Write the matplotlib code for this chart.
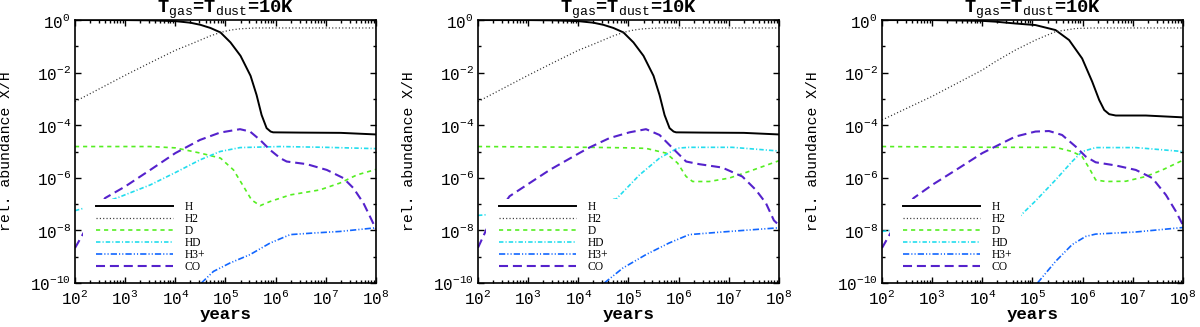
import numpy as np
import matplotlib
matplotlib.use("Agg")
import matplotlib.pyplot as plt
from matplotlib import ticker
from matplotlib.patches import Rectangle

plt.rcParams['font.family'] = ['Liberation Mono', 'DejaVu Sans']
plt.rcParams['mathtext.fontset'] = 'custom'
plt.rcParams['mathtext.rm'] = 'Liberation Mono'
plt.rcParams['mathtext.it'] = 'Liberation Mono'
plt.rcParams['mathtext.bf'] = 'Liberation Mono:bold'
plt.rcParams['mathtext.default'] = 'rm'
plt.rcParams['lines.scale_dashes'] = False

# data: log10(years) and log10(abundance)
# panel 1
lt_H_a = [2.0, 3.0, 3.5, 4.0, 4.3, 4.5, 4.7, 4.9, 5.1, 5.3, 5.5, 5.62, 5.72, 5.82, 5.9, 5.95, 6.5, 7.3, 8.0]
H_a = [0.0, 0.0, -0.01, -0.04, -0.1, -0.18, -0.3, -0.47, -0.85, -1.36, -2.12, -2.85, -3.61, -4.11, -4.24, -4.27, -4.28, -4.29, -4.35]
lt_H2_a = [2.0, 2.5, 3.0, 3.5, 4.0, 4.3, 4.5, 4.7, 4.9, 5.1, 5.3, 5.6, 8.0]
H2_a = [-3.1, -2.6, -2.1, -1.62, -1.15, -0.92, -0.76, -0.6, -0.47, -0.38, -0.33, -0.3, -0.3]
lt_D_a = [2.0, 3.5, 4.0, 4.5, 4.9, 5.16, 5.36, 5.52, 5.69, 5.89, 6.29, 6.88, 7.28, 7.62, 8.0]
D_a = [-4.81, -4.81, -4.86, -5.06, -5.25, -5.7, -6.33, -6.84, -7.06, -6.9, -6.65, -6.46, -6.2, -5.89, -5.68]
lt_HD_a = [2.0, 2.5, 2.86, 3.5, 4.0, 4.49, 4.89, 5.29, 6.09, 7.0, 8.0]
HD_a = [-7.25, -6.98, -6.75, -6.27, -5.8, -5.32, -5.0, -4.85, -4.81, -4.84, -4.89]
lt_H3p_a = [4.52, 4.76, 5.09, 5.49, 5.89, 6.29, 6.75, 7.28, 8.0]
H3p_a = [-10.0, -9.56, -9.24, -8.92, -8.48, -8.16, -8.1, -8.04, -7.9]
lt_CO_a = [2.0, 2.17, 2.6, 3.0, 3.5, 4.0, 4.49, 4.89, 5.29, 5.49, 5.69, 5.89, 6.09, 6.22, 6.62, 7.02, 7.35, 7.55, 7.75, 7.88, 8.0]
CO_a = [-8.67, -8.1, -6.77, -6.33, -5.7, -5.06, -4.56, -4.28, -4.15, -4.24, -4.56, -4.94, -5.25, -5.38, -5.48, -5.7, -6.01, -6.39, -6.96, -7.47, -7.95]

# panel 2 (H and H2 same as panel 1)
lt_D_b = [2.0, 4.23, 5.0, 5.35, 5.75, 5.98, 6.15, 6.28, 6.61, 7.01, 7.4, 8.0]
D_b = [-4.81, -4.84, -4.86, -4.88, -5.06, -5.44, -5.95, -6.14, -6.14, -6.01, -5.76, -5.35]
lt_HD_b = [2.0, 3.5, 4.76, 5.22, 5.62, 5.98, 6.21, 7.07, 8.0]
HD_b = [-7.43, -7.2, -6.8, -5.89, -5.25, -4.87, -4.84, -4.84, -4.98]
lt_H3p_b = [4.52, 4.89, 5.35, 5.81, 6.21, 6.87, 8.0]
H3p_b = [-10.0, -9.43, -8.92, -8.48, -8.16, -8.06, -7.9]
lt_CO_b = [2.0, 2.17, 2.63, 3.03, 3.43, 4.02, 4.23, 4.62, 5.02, 5.35, 5.62, 5.88, 6.15, 6.41, 6.87, 7.27, 7.54, 7.74, 7.9, 8.0]
CO_b = [-8.66, -7.96, -6.7, -6.2, -5.7, -5.06, -4.84, -4.49, -4.27, -4.15, -4.37, -4.87, -5.38, -5.48, -5.61, -5.95, -6.46, -6.96, -7.62, -7.8]

# panel 3
lt_H_c = [2.0, 3.0, 4.0, 4.26, 4.66, 5.06, 5.46, 5.73, 5.99, 6.19, 6.33, 6.43, 6.53, 6.66, 7.26, 8.0]
H_c = [0.0, 0.0, -0.03, -0.06, -0.13, -0.19, -0.38, -0.76, -1.46, -2.34, -3.04, -3.42, -3.58, -3.63, -3.63, -3.7]
lt_H2_c = [2.0, 3.0, 4.0, 4.26, 4.66, 5.06, 5.46, 5.86, 6.2, 8.0]
H2_c = [-3.8, -2.9, -1.9, -1.58, -1.14, -0.76, -0.44, -0.32, -0.3, -0.3]
lt_D_c = [2.0, 4.26, 5.46, 5.79, 5.99, 6.13, 6.26, 6.46, 6.86, 7.26, 7.59, 8.0]
D_c = [-4.81, -4.84, -4.84, -5.0, -5.19, -5.63, -6.08, -6.14, -6.13, -5.95, -5.7, -5.33]
lt_HD_c = [2.0, 3.5, 4.76, 5.06, 5.46, 5.79, 5.99, 6.26, 7.06, 8.0]
HD_c = [-8.04, -7.7, -7.44, -6.88, -6.08, -5.38, -5.0, -4.85, -4.85, -5.0]
lt_H3p_c = [5.1, 5.46, 5.79, 6.06, 6.26, 7.06, 8.0]
H3p_c = [-10.0, -9.18, -8.54, -8.23, -8.14, -8.06, -7.89]
lt_CO_c = [2.0, 2.17, 2.63, 3.0, 3.5, 4.0, 4.26, 4.66, 5.06, 5.33, 5.59, 5.86, 6.06, 6.26, 6.66, 7.06, 7.39, 7.66, 7.86, 8.0]
CO_c = [-8.67, -8.1, -6.77, -6.27, -5.67, -5.06, -4.81, -4.43, -4.24, -4.22, -4.37, -4.81, -5.19, -5.41, -5.53, -5.7, -6.01, -6.65, -7.28, -7.8]

labels = ['H', 'H2', 'D', 'HD', 'H3+', 'CO']
colors = ['black', '#333333', '#55ee22', '#22ddee', '#1166ff', '#5522cc']
widths = [1.4, 0.9, 1.2, 1.2, 1.2, 1.5]
dashes = [None, (0.8, 1.6), (3.0, 2.8), (3.2, 1.5, 0.8, 1.5), (4.5, 1.5, 0.8, 1.5, 0.8, 1.5), (6.5, 3.5)]

panels = [
    [(lt_H_a, H_a), (lt_H2_a, H2_a), (lt_D_a, D_a), (lt_HD_a, HD_a), (lt_H3p_a, H3p_a), (lt_CO_a, CO_a)],
    [(lt_H_a, H_a), (lt_H2_a, H2_a), (lt_D_b, D_b), (lt_HD_b, HD_b), (lt_H3p_b, H3p_b), (lt_CO_b, CO_b)],
    [(lt_H_c, H_c), (lt_H2_c, H2_c), (lt_D_c, D_c), (lt_HD_c, HD_c), (lt_H3p_c, H3p_c), (lt_CO_c, CO_c)],
]
lefts = [0.0625, 0.3983, 0.735]

fig = plt.figure(figsize=(12, 3.27), dpi=100)

for left, series in zip(lefts, panels):
    ax = fig.add_axes([left, 0.1346, 0.2508, 0.804])
    for (lt, lv), lab, c, lw, ds in zip(series, labels, colors, widths, dashes):
        line, = ax.plot(10.0 ** np.array(lt), 10.0 ** np.array(lv), color=c, lw=lw, label=lab)
        if ds is not None:
            line.set_dashes(ds)
    ax.set_xscale('log')
    ax.set_yscale('log')
    ax.set_xlim(1e2, 1e8)
    ax.set_ylim(1e-10, 1e0)
    ax.yaxis.set_major_locator(ticker.FixedLocator([10.0 ** k for k in range(-10, 1, 2)]))
    ax.yaxis.set_minor_locator(ticker.FixedLocator([10.0 ** k for k in range(-9, 0, 2)]))
    ax.yaxis.set_minor_formatter(ticker.NullFormatter())
    ax.xaxis.set_major_locator(ticker.LogLocator(base=10, numticks=10))
    ax.xaxis.set_minor_locator(ticker.LogLocator(base=10, subs=np.arange(2, 10), numticks=20))
    ax.xaxis.set_minor_formatter(ticker.NullFormatter())
    ax.tick_params(which='both', direction='in', top=True, right=True, width=1.0)
    ax.tick_params(which='major', length=4.5, labelsize=11.5, pad=3)
    ax.tick_params(axis='x', which='major', pad=4.5)
    ax.tick_params(which='minor', length=2.3)
    for sp in ax.spines.values():
        sp.set_linewidth(1.2)

    ax.text(0.5, 1.027, r'T$_{\rm gas}$=T$_{\rm dust}$=10K', transform=ax.transAxes,
            ha='center', va='baseline', fontsize=13.5, fontweight='bold')
    ax.set_ylabel('rel. abundance X/H', fontsize=10.7)
    ax.yaxis.set_label_coords(-0.205, 0.5)
    ax.set_xlabel('years', fontsize=12.5, fontweight='bold')
    ax.xaxis.set_label_coords(0.5, -0.09)

    # white key background hides the curves behind it
    ax.add_patch(Rectangle((0.027, 0.049), 0.435, 0.27, transform=ax.transAxes,
                           facecolor='white', edgecolor='none', zorder=4))
    ax.legend(loc='upper left', bbox_to_anchor=(0.07, 0.31), frameon=False,
              prop={'family': 'Liberation Serif', 'size': 8.3}, handlelength=6.7,
              handletextpad=1.0, labelspacing=0.0, borderpad=0, borderaxespad=0)

fig.savefig('out.png', dpi=100)
